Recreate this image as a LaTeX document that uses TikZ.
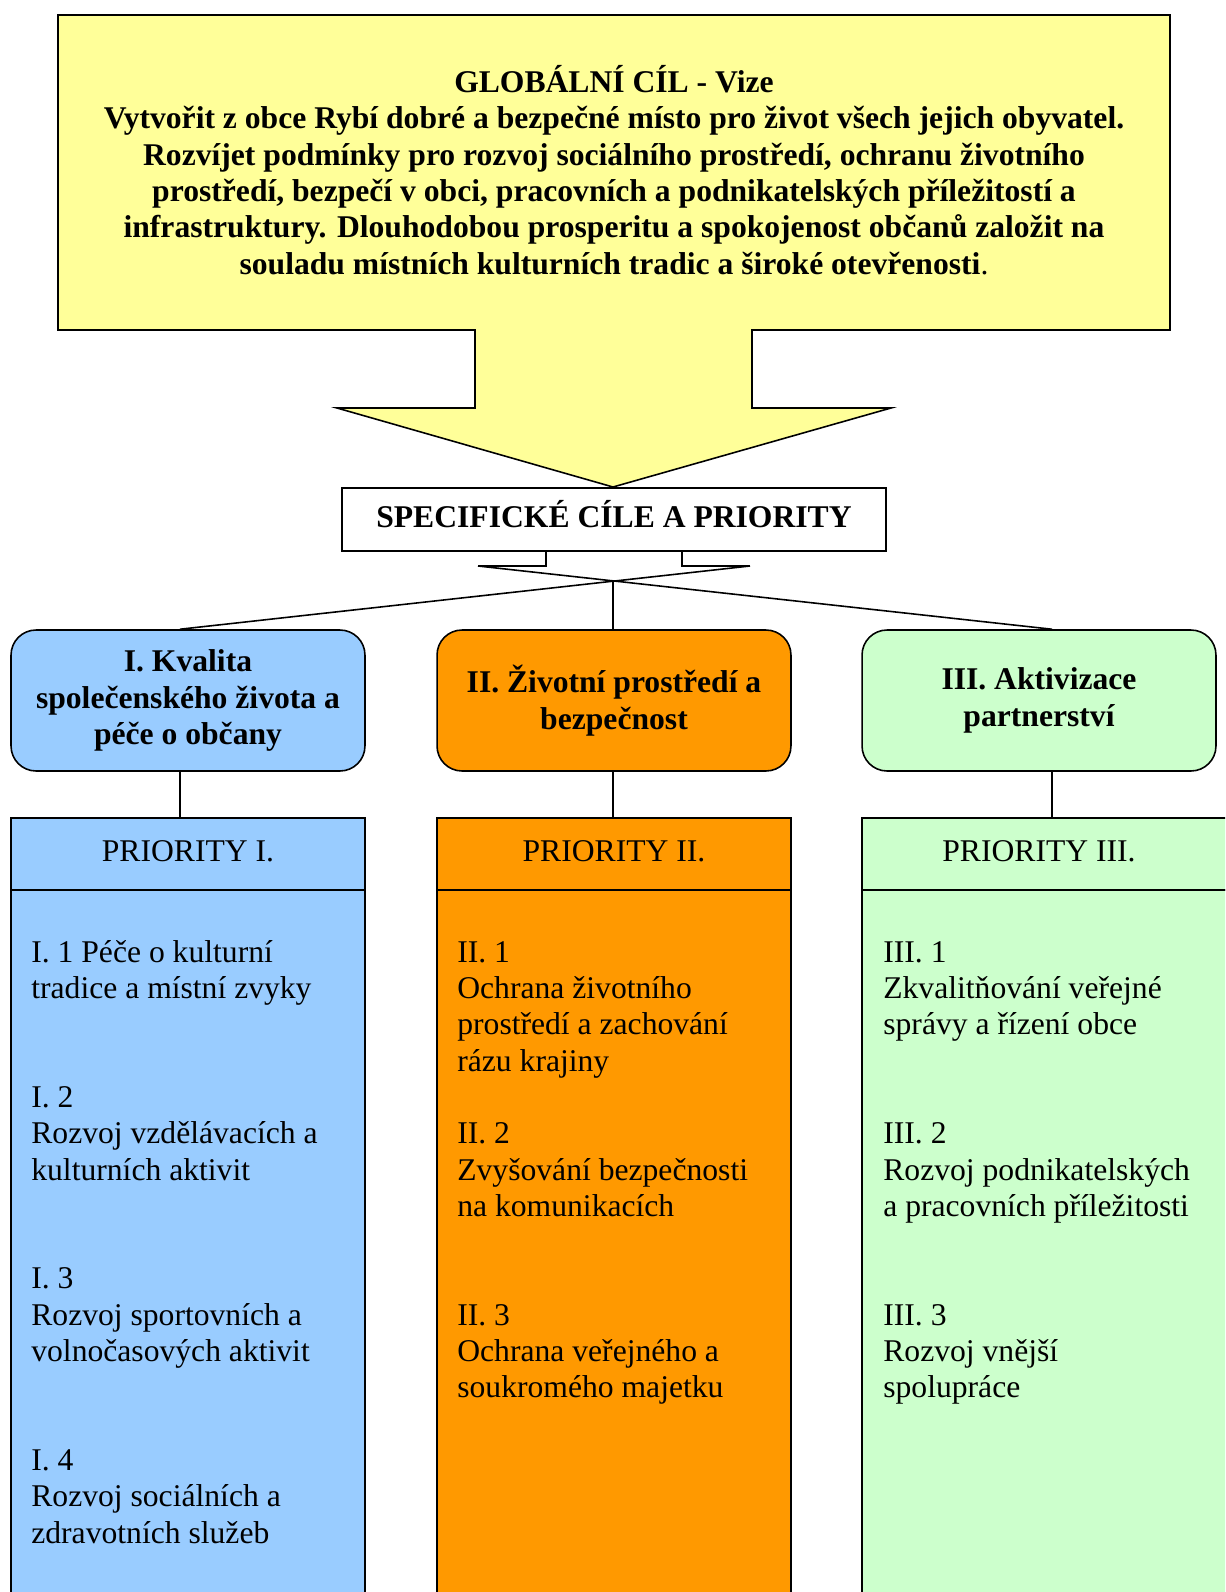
\documentclass[tikz,border=0pt]{standalone}
\usepackage{fontspec}
\setmainfont{Liberation Serif}
\newcommand\mfs{\fontsize{18}{20.66}\selectfont}
\definecolor{cyel}{HTML}{FFFF99}
\definecolor{cblue}{HTML}{99CCFF}
\definecolor{corange}{HTML}{FF9900}
\definecolor{cgreen}{HTML}{CCFFCC}
\begin{document}
\begin{tikzpicture}[x=0.02cm,y=-0.02cm,
  ln/.style={line width=0.9pt},
  lvl/.style={draw, line width=0.9pt, rounded corners=0.5cm, minimum width=7.08cm, minimum height=2.82cm, align=center, font=\bfseries\mfs, inner sep=0},
  phead/.style={draw, line width=0.9pt, minimum width=7.08cm, minimum height=1.44cm, font=\mfs, inner sep=0},
  pbody/.style={draw, line width=0.9pt, minimum width=7.08cm, minimum height=14.2cm, inner sep=0},
  item/.style={anchor=north west, align=left, inner sep=0, font=\mfs}]
\useasboundingbox (0,0) rectangle (1225,1592);
\clip (0,0) rectangle (1225,1592);
% global goal callout
\draw[ln, fill=cyel] (58,15) -- (1170,15) -- (1170,330) -- (752,330) -- (752,408) -- (891,408)
  -- (613,487) -- (337,408) -- (475,408) -- (475,330) -- (58,330) -- cycle;
\node[align=center, font=\bfseries\mfs, inner sep=0] (goal) at (614,170) {%
GLOBÁLNÍ CÍL - Vize\\
Vytvořit z obce Rybí dobré a bezpečné místo pro život všech jejich obyvatel.\\
Rozvíjet podmínky pro rozvoj sociálního prostředí, ochranu životního\\
prostředí, bezpečí v obci, pracovních a podnikatelských příležitostí a\\
infrastruktury. Dlouhodobou prosperitu a spokojenost občanů založit na\\
souladu místních kulturních tradic a široké otevřenosti{\mdseries .}};
% specific goals
\node[draw, ln, fill=white, minimum width=10.88cm, minimum height=1.26cm, font=\bfseries\mfs, inner sep=0] (spec) at (614,519.5) {\strut SPECIFICKÉ CÍLE A PRIORITY};
% level 2 boxes
\node[lvl, fill=cblue] (k1) at (188,700.5) {I. Kvalita\\společenského života a\\péče o občany};
\node[lvl, fill=corange] (k2) at (614,700.5) {II. Životní prostředí a\\bezpečnost};
\node[lvl, fill=cgreen] (k3) at (1039,700.5) {III. Aktivizace\\partnerství};
% connector from specific box
\coordinate (sl) at (478,566);
\coordinate (sr) at (750,566);
\coordinate (sx) at (613,581);
\draw[ln] (spec.south -| 546,0) -- (546,566) -- (sl);
\draw[ln] (spec.south -| 682,0) -- (682,566) -- (sr);
\draw[ln] (sl) -- (k3.north -| 1052,0);
\draw[ln] (sr) -- (k1.north -| 180,0);
\draw[ln] (sx) -- (k2.north -| 613,0);
% priority headers and bodies
\node[pbody, fill=cblue] (b1) at (188,1245) {};
\node[pbody, fill=corange] (b2) at (614,1245) {};
\node[pbody, fill=cgreen, minimum width=7.4cm] (b3) at (1047,1245) {};
\node[phead, fill=cblue] (h1) at (188,854) {\strut PRIORITY I.};
\node[phead, fill=corange] (h2) at (614,854) {\strut PRIORITY II.};
\node[phead, fill=cgreen, minimum width=7.4cm] (h3) at (1047,854) {\strut PRIORITY III.\hspace*{0.32cm}};
\draw[ln] (k1.south -| 180,0) -- (h1.north -| 180,0);
\draw[ln] (k2.south -| 613,0) -- (h2.north -| 613,0);
\draw[ln] (k3.south -| 1052,0) -- (h3.north -| 1052,0);
% items
\node[item] (t1) at (31,936.5) {\strut I. 1 Péče o kulturní\\tradice a místní zvyky\\[2\baselineskip]
I. 2\\Rozvoj vzdělávacích a\\kulturních aktivit\\[2\baselineskip]
I. 3\\Rozvoj sportovních a\\volnočasových aktivit\\[2\baselineskip]
I. 4\\Rozvoj sociálních a\\zdravotních služeb};
\node[item] (t2) at (457,936.5) {\strut II. 1\\Ochrana životního\\prostředí a zachování\\rázu krajiny\\[1\baselineskip]
II. 2\\Zvyšování bezpečnosti\\na komunikacích\\[2\baselineskip]
II. 3\\Ochrana veřejného a\\soukromého majetku};
\node[item] (t3) at (883,936.5) {\strut III. 1\\Zkvalitňování veřejné\\správy a řízení obce\\[2\baselineskip]
III. 2\\Rozvoj podnikatelských\\a pracovních příležitosti\\[2\baselineskip]
III. 3\\Rozvoj vnější\\spolupráce};
\end{tikzpicture}
\end{document}
